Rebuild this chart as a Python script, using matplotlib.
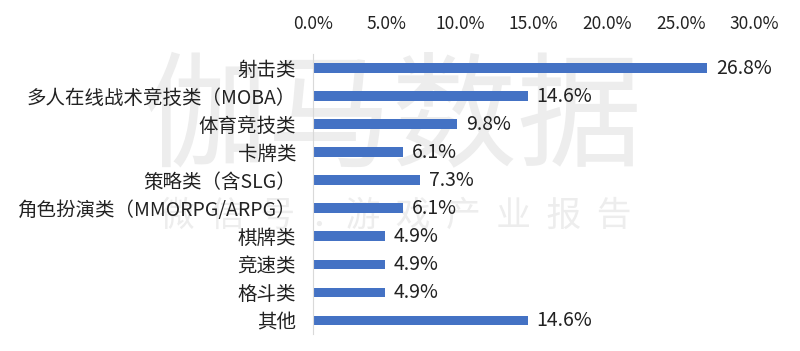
import matplotlib.pyplot as plt
from matplotlib.ticker import FuncFormatter

plt.rcParams['font.family'] = ['Noto Sans CJK SC', 'DejaVu Sans']

categories = ['射击类', '多人在线战术竞技类（MOBA）', '体育竞技类', '卡牌类', '策略类（含SLG）',
              '角色扮演类（MMORPG/ARPG）', '棋牌类', '竞速类', '格斗类', '其他']
shares = [26.8, 14.6, 9.8, 6.1, 7.3, 6.1, 4.9, 4.9, 4.9, 14.6]
x_ticks = [0, 5, 10, 15, 20, 25, 30]

fig = plt.figure(figsize=(8, 3.51), dpi=100)
ax = fig.add_axes([0.391, 0.048, 0.552, 0.798])
ax.set_zorder(2)
ax.set_facecolor('none')

# faint watermark behind everything
fig.text(0.49, 0.655, '伽马数据', fontsize=90, color='#ededed', ha='center', va='center', zorder=0)
fig.text(0.495, 0.385, '微  信  号  ：游  戏  产  业  报  告', fontsize=25, color='#ededed',
         ha='center', va='center', zorder=0)

y = list(range(len(categories)))
ax.barh(y, shares, height=0.33, color='#4472C4', zorder=2)
for yi, v in zip(y, shares):
    ax.text(v + 0.6, yi, f'{v:.1f}%', va='center', ha='left', fontsize=14, color='#222222')

ax.set_yticks(y)
ax.set_yticklabels(categories, fontsize=14, color='#222222')
ax.set_ylim(len(categories) - 0.5, -0.5)
ax.set_xlim(0, 30)
ax.set_xticks(x_ticks)
ax.xaxis.set_major_formatter(FuncFormatter(lambda v, p: f'{v:.1f}%'))
ax.xaxis.tick_top()
ax.tick_params(axis='x', length=0, pad=15, labelsize=12.5, labelcolor='#222222')
ax.tick_params(axis='y', length=0, pad=12)

for s in ['top', 'right', 'bottom']:
    ax.spines[s].set_visible(False)
ax.spines['left'].set_color('#d9d9d9')

fig.savefig('out.png', dpi=100)
